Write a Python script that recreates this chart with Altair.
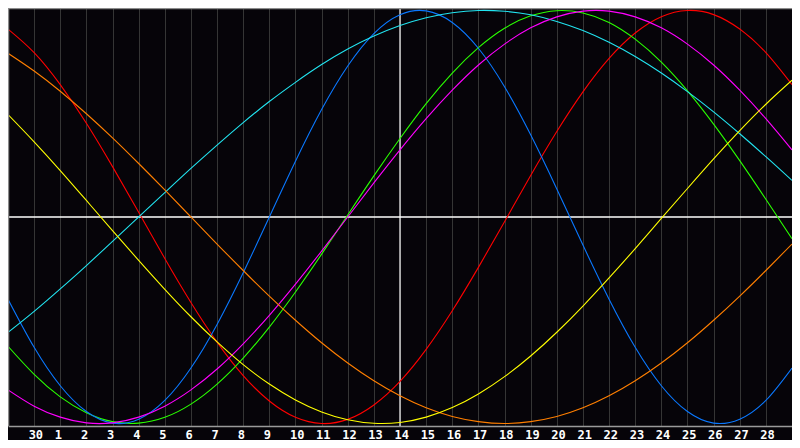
import json
import altair as alt
import pandas as pd

# ---- data ----
days = list(range(31))  # positions 0..30 across the plot
day_labels = ["30"] + [str(d) for d in range(1, 29)]
tick_positions = list(range(1, 30))
today_position = 15

red = [0.910, 0.796, 0.641, 0.454, 0.244, 0.023, -0.201, -0.414, -0.606, -0.768, -0.891, -0.970, -1.000, -0.980,
       -0.910, -0.796, -0.641, -0.454, -0.244, -0.023, 0.201, 0.414, 0.606, 0.768, 0.891, 0.970, 1.000, 0.980,
       0.910, 0.796, 0.641]
green = [-0.626, -0.762, -0.871, -0.948, -0.991, -0.998, -0.970, -0.906, -0.809, -0.683, -0.533, -0.363, -0.180,
         0.010, 0.199, 0.380, 0.549, 0.697, 0.820, 0.914, 0.974, 0.999, 0.988, 0.942, 0.861, 0.750, 0.611, 0.450,
         0.273, 0.086, -0.105]
blue = [-0.398, -0.631, -0.817, -0.942, -0.998, -0.979, -0.888, -0.731, -0.520, -0.270, 0.000, 0.270, 0.520, 0.731,
        0.888, 0.979, 0.998, 0.942, 0.817, 0.631, 0.398, 0.136, -0.136, -0.398, -0.631, -0.817, -0.942, -0.998,
        -0.979, -0.888, -0.731]
cyan = [-0.559, -0.457, -0.348, -0.235, -0.118, 0.000, 0.118, 0.235, 0.348, 0.457, 0.559, 0.652, 0.738, 0.813,
        0.876, 0.927, 0.965, 0.989, 1.000, 0.996, 0.979, 0.947, 0.903, 0.846, 0.777, 0.697, 0.607, 0.509, 0.403,
        0.292, 0.177]
magenta = [-0.837, -0.916, -0.969, -0.997, -0.997, -0.969, -0.916, -0.837, -0.736, -0.614, -0.476, -0.325, -0.165,
           0.000, 0.165, 0.325, 0.476, 0.614, 0.736, 0.837, 0.916, 0.969, 0.997, 0.997, 0.969, 0.916, 0.837, 0.736,
           0.614, 0.476, 0.325]
orange = [0.793, 0.707, 0.609, 0.500, 0.383, 0.259, 0.131, 0.000, -0.131, -0.259, -0.383, -0.500, -0.609, -0.707,
          -0.793, -0.866, -0.924, -0.966, -0.991, -1.000, -0.991, -0.966, -0.924, -0.866, -0.793, -0.707, -0.609,
          -0.500, -0.383, -0.259, -0.131]
yellow = [0.496, 0.364, 0.225, 0.080, -0.066, -0.210, -0.350, -0.483, -0.605, -0.715, -0.809, -0.886, -0.944,
          -0.982, -0.999, -0.995, -0.969, -0.923, -0.857, -0.773, -0.673, -0.558, -0.431, -0.295, -0.153, -0.007,
          0.138, 0.281, 0.418, 0.546, 0.662]

series_names = ["red", "green", "blue", "cyan", "magenta", "orange", "yellow"]
series_colors = ["#ff0000", "#2aff00", "#0a78ff", "#22e4f0", "#ff00ff", "#ff7f00", "#ffff00"]
series_values = [red, green, blue, cyan, magenta, orange, yellow]

rows = []
for name, vals in zip(series_names, series_values):
    for t, v in zip(days, vals):
        rows.append({"t": t, "v": v, "s": name})
df = pd.DataFrame(rows)

W, H = 784, 418
x_scale = alt.Scale(domain=[0, 30], nice=False, zero=False)
y_scale = alt.Scale(domain=[-1.012, 1.012], nice=False, zero=False)

label_expr = json.dumps(day_labels) + "[datum.value - 1]"
x_axis = alt.Axis(
    values=tick_positions, labelExpr=label_expr, grid=True, gridColor="#353535", gridWidth=1,
    ticks=False, domain=True, domainColor="#9a9a9a", domainWidth=1.5,
    labelColor="#ffffff", labelFont="DejaVu Sans Mono", labelFontWeight="bold", labelFontSize=12,
    labelAlign="left", labelOffset=-6, labelBaseline="top", labelPadding=3,
    labelOverlap=False, labelFlush=False, title=None,
)

curves = alt.Chart(df).mark_line(strokeWidth=1.1, interpolate="natural", clip=True).encode(
    x=alt.X("t:Q", scale=x_scale, axis=x_axis),
    y=alt.Y("v:Q", scale=y_scale, axis=None),
    color=alt.Color("s:N", scale=alt.Scale(domain=series_names, range=series_colors), legend=None),
    detail="s:N",
)

zero_line = alt.Chart(pd.DataFrame({"v": [0.0]})).mark_rule(color="#ffffff", strokeWidth=1.5).encode(
    y=alt.Y("v:Q", scale=y_scale, axis=None),
)
today_line = alt.Chart(pd.DataFrame({"t": [today_position]})).mark_rule(color="#ffffff", strokeWidth=1.2).encode(
    x=alt.X("t:Q", scale=x_scale, axis=x_axis),
)

top_border = alt.Chart(pd.DataFrame({"a": [0]})).mark_rule(color="#8c8c8c", strokeWidth=1.5).encode(
    x=alt.value(0), x2=alt.value(W), y=alt.value(0.5),
)
left_border = alt.Chart(pd.DataFrame({"a": [0]})).mark_rule(color="#8c8c8c", strokeWidth=1.5).encode(
    x=alt.value(0.5), y=alt.value(0), y2=alt.value(H),
)

chart = alt.layer(zero_line, today_line, curves, top_border, left_border).properties(
    width=W, height=H,
    autosize=alt.AutoSizeParams(type="none"),
    padding={"left": 0, "top": 0, "right": 0, "bottom": 14},
    background="#060409",
).configure_view(strokeWidth=0)

chart.save("out.html", embed_options={"renderer": "svg", "actions": False})
